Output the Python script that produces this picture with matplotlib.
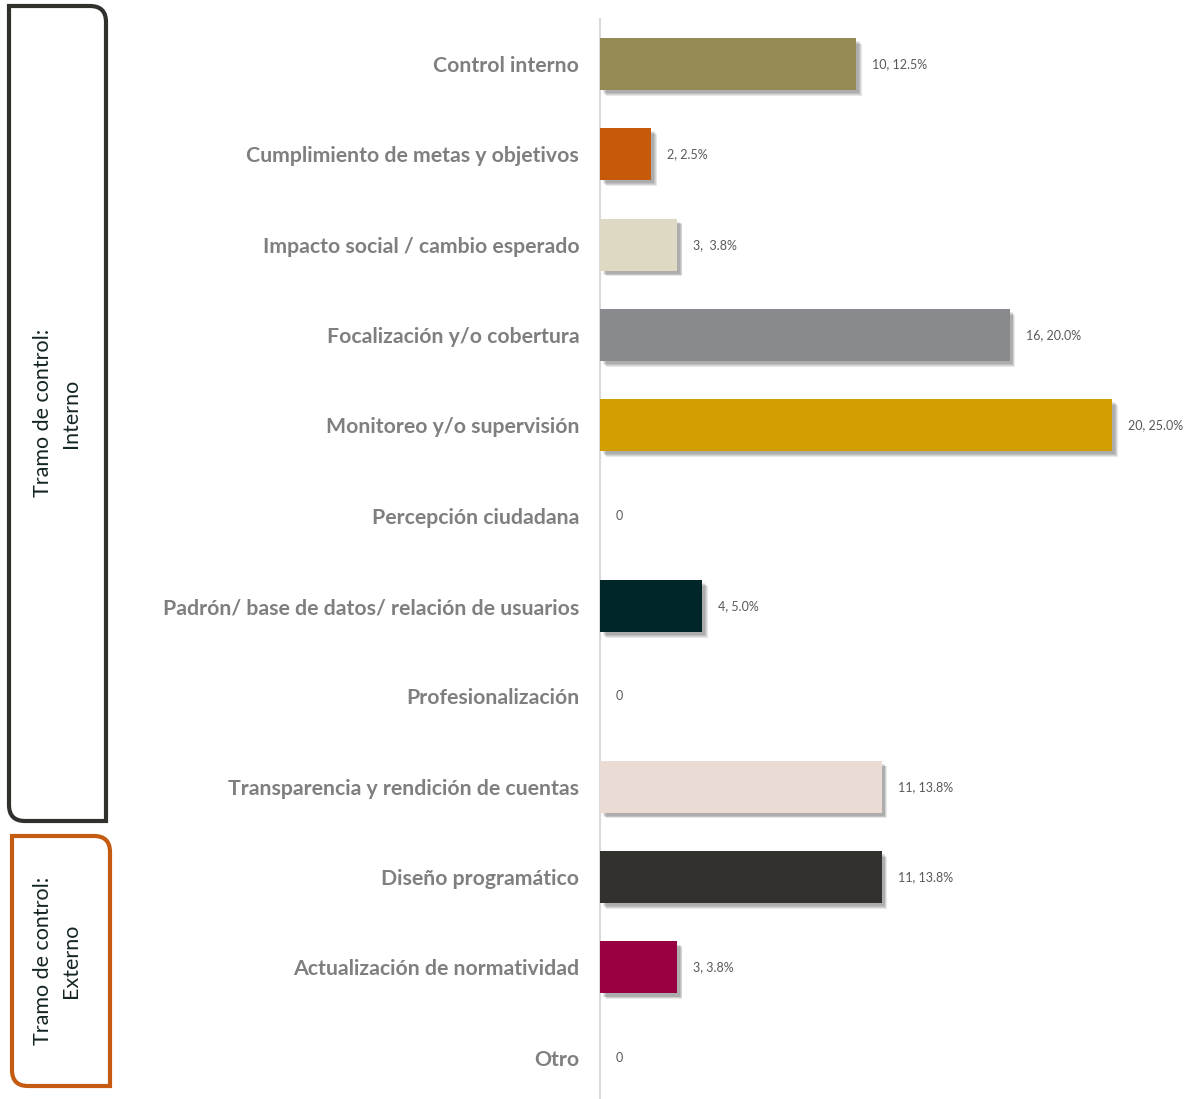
import matplotlib
matplotlib.use('Agg')
import matplotlib.pyplot as plt
import matplotlib.patheffects as pe
from matplotlib.path import Path
from matplotlib.patches import PathPatch
from matplotlib.transforms import IdentityTransform

plt.rcParams['font.family'] = ['Lato', 'DejaVu Sans']

categories = ['Control interno', 'Cumplimiento de metas y objetivos',
              'Impacto social / cambio esperado', 'Focalización y/o cobertura',
              'Monitoreo y/o supervisión', 'Percepción ciudadana',
              'Padrón/ base de datos/ relación de usuarios', 'Profesionalización',
              'Transparencia y rendición de cuentas', 'Diseño programático',
              'Actualización de normatividad', 'Otro']
counts = [10, 2, 3, 16, 20, 0, 4, 0, 11, 11, 3, 0]
value_labels = ['10, 12.5%', '2, 2.5%', '3,  3.8%', '16, 20.0%', '20, 25.0%', '0',
                '4, 5.0%', '0', '11, 13.8%', '11, 13.8%', '3, 3.8%', '0']
colors = ['#948A54', '#C55A0A', '#DDD9C3', '#898A8E', '#D09E00', '#FFFFFF',
          '#012629', '#FFFFFF', '#EBDBD5', '#32312D', '#990042', '#FFFFFF']

W, H = 1190, 1099
fig = plt.figure(figsize=(W / 100, H / 100), dpi=100)

# axes placed in pixel terms: left edge at x=600, rows span y=18.8..1103
ax_left, ax_right = 600, 1190
ax_top, ax_bottom = 18.8, 1103
ax = fig.add_axes([ax_left / W, (H - ax_bottom) / H,
                   (ax_right - ax_left) / W, (ax_bottom - ax_top) / H])

y = list(range(len(categories)))
bars = ax.barh(y, counts, height=0.575, color=colors, zorder=3)
shadow = [pe.SimplePatchShadow(offset=(o, -o), shadow_rgbFace='#000000', alpha=0.09)
          for o in (4.0, 3.4, 2.8, 2.2)]
for b, c in zip(bars, counts):
    if c > 0:
        b.set_path_effects(shadow + [pe.Normal()])

for yi, c, lab in zip(y, counts, value_labels):
    ax.annotate(lab, (c, yi), xytext=(11.5, 0), textcoords='offset points',
                va='center', ha='left', fontsize=9, color='#595959')

ax.set_xlim(0, (ax_right - ax_left) / 25.6)
ax.set_ylim(len(categories) - 0.5, -0.5)
ax.set_yticks(y)
ax.set_yticklabels(categories, fontsize=15.3, fontweight='bold', color='#7F7F7F')
ax.tick_params(axis='y', length=0, pad=15)
ax.set_xticks([])
for s in ['top', 'right', 'bottom']:
    ax.spines[s].set_visible(False)
ax.spines['left'].set_color('#D9D9D9')
ax.spines['left'].set_linewidth(1.5)


def diag_box(x0, x1, top, bottom, r, color):
    # rectangle with rounded top-right and bottom-left corners (pixel coords)
    yt, yb = H - top, H - bottom
    verts = [(x0, yt), (x1 - r, yt), (x1, yt), (x1, yt - r), (x1, yb),
             (x0 + r, yb), (x0, yb), (x0, yb + r), (x0, yt), (x0, yt)]
    codes = [Path.MOVETO, Path.LINETO, Path.CURVE3, Path.CURVE3, Path.LINETO,
             Path.LINETO, Path.CURVE3, Path.CURVE3, Path.LINETO, Path.CLOSEPOLY]
    patch = PathPatch(Path(verts, codes), facecolor='white', edgecolor=color,
                      linewidth=3, transform=IdentityTransform())
    fig.add_artist(patch)


diag_box(9, 106, 6, 821, 16, '#30302D')
diag_box(12, 110, 836, 1086, 16, '#C55A11')

fig.text(57 / W, 1 - 413 / H, 'Tramo de control:\nInterno', rotation=90,
         ha='center', va='center', fontsize=15.5, color='#152525',
         multialignment='center', linespacing=1.45)
fig.text(57 / W, 1 - 961 / H, 'Tramo de control:\nExterno', rotation=90,
         ha='center', va='center', fontsize=15.5, color='#152525',
         multialignment='center', linespacing=1.45)

fig.savefig('out.png', dpi=100)
